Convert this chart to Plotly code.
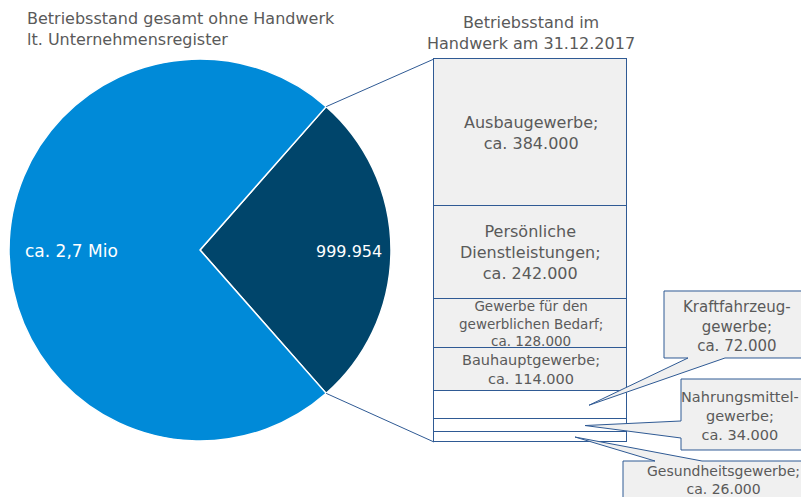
import math
import plotly.graph_objects as go

# ---------------- data ----------------
pie_labels = ["Handwerk", "ohne Handwerk"]
pie_values = [999954, 2700000]
pie_texts = ["999.954", "ca. 2,7 Mio"]

seg_names = ["Ausbaugewerbe", "Persönliche Dienstleistungen", "Gewerbe für den gewerblichen Bedarf",
             "Bauhauptgewerbe", "Kraftfahrzeuggewerbe", "Nahrungsmittelgewerbe", "Gesundheitsgewerbe"]
seg_values = [384000, 242000, 128000, 114000, 72000, 34000, 26000]
seg_labels = ["Ausbaugewerbe;<br>ca. 384.000",
              "Persönliche<br>Dienstleistungen;<br>ca. 242.000",
              "Gewerbe für den<br>gewerblichen Bedarf;<br>ca. 128.000",
              "Bauhauptgewerbe;<br>ca. 114.000",
              "Kraftfahrzeug-<br>gewerbe;<br>ca. 72.000",
              "Nahrungsmittel-<br>gewerbe;<br>ca. 34.000",
              "Gesundheitsgewerbe;<br>ca. 26.000"]

title_left = "Betriebsstand gesamt ohne Handwerk<br>lt. Unternehmensregister"
title_bar = "Betriebsstand im<br>Handwerk am 31.12.2017"

# ---------------- styles ----------------
W, H = 801, 497
FONT = "DejaVu Sans"
TXT = "#5a5a5a"
NAVY = "#2f5a94"
LIGHT_BLUE = "#008ad8"
DARK = "#00456b"
GREY = "#f0f0f0"

# pie geometry (pixels)
cx, cy, r = 200, 250, 191
# bar geometry (pixels)
bar_x, bar_w = 530.5, 193
bar_top, bar_bot = 59, 442
total = sum(seg_values)
scale = (bar_bot - bar_top) / total  # px per unit
y_lo = -bar_top / scale
y_hi = (H - bar_top) / scale


def v2px(v):
    return bar_top + v * scale


def py(p):  # pixel y -> paper
    return 1 - p / H


fig = go.Figure()

frac = pie_values[0] / sum(pie_values)
rot = 90 - 180 * frac
fig.add_trace(go.Pie(
    labels=pie_labels, values=pie_values, sort=False, direction="clockwise",
    rotation=rot, textinfo="none", hoverinfo="skip", showlegend=False,
    marker=dict(colors=[DARK, LIGHT_BLUE], line=dict(color="white", width=1.5)),
    domain=dict(x=[(cx - r) / W, (cx + r) / W], y=[py(cy + r), py(cy - r)]),
))

fills = [GREY, GREY, GREY, GREY, "white", "white", "white"]
for name, val, col in zip(seg_names, seg_values, fills):
    fig.add_trace(go.Bar(
        x=[bar_x], y=[val], width=[bar_w], name=name, showlegend=False,
        marker=dict(color=col, line=dict(color=NAVY, width=1)),
        hoverinfo="skip", xaxis="x", yaxis="y",
    ))

annotations = []
shapes = []


def ann(x, y, text, size, color=TXT, xanchor="center", align="center", yref="paper"):
    annotations.append(dict(x=x, y=y, xref="x", yref=yref, text=text, showarrow=False,
                            xanchor=xanchor, yanchor="middle", align=align,
                            font=dict(family=FONT, size=size, color=color)))


# pie labels
ann(71, py(251), pie_texts[1], 17, color="white")
ann(349, py(251), pie_texts[0], 16, color="white")

# connecting lines from pie to bar
a1 = math.radians(rot)
a2 = math.radians(rot + 360 * frac)
p1 = (cx + r * math.sin(a1), cy - r * math.cos(a1))
p2 = (cx + r * math.sin(a2), cy - r * math.cos(a2))
shapes.append(dict(type="line", xref="x", yref="paper", x0=p1[0], y0=py(p1[1]),
                   x1=bar_x - bar_w / 2, y1=py(v2px(0)), line=dict(color=NAVY, width=1)))
shapes.append(dict(type="line", xref="x", yref="paper", x0=p2[0], y0=py(p2[1]),
                   x1=bar_x - bar_w / 2, y1=py(v2px(total)), line=dict(color=NAVY, width=1)))

# labels inside the first four segments
sizes = [16, 16, 13.5, 14.5]
cum = 0
mids = []
for val in seg_values:
    mids.append(cum + val / 2)
    cum += val
for i in range(4):
    ann(bar_x, mids[i], seg_labels[i], sizes[i], yref="y")

# callouts
callouts = [
    dict(box=(664, 291, 812, 358), base=[(725, 358), (688, 358)], side="bottom",
         tipx=589, txt=(737, 326), idx=4, size=15),
    dict(box=(681, 379, 812, 450), base=[(681, 421), (681, 438)], side="left",
         tipx=585, txt=(740, 416), idx=5, size=14.5),
    dict(box=(623, 461, 812, 510), base=[(655, 461), (702, 461)], side="top",
         tipx=575, txt=(723, 480), idx=6, size=14),
]
for c in callouts:
    x0, y0, x1, y1 = c["box"]
    tip = (c["tipx"], v2px(mids[c["idx"]]))
    b1, b2 = c["base"]
    if c["side"] == "bottom":
        pts = [(x0, y0), (x1, y0), (x1, y1), b1, tip, b2, (x0, y1)]
    elif c["side"] == "left":
        pts = [(x0, y0), (x1, y0), (x1, y1), (x0, y1), b2, tip, b1]
    else:
        pts = [(x0, y0), b1, tip, b2, (x1, y0), (x1, y1), (x0, y1)]
    path = "M " + " L ".join(f"{px_:.2f},{py(p_):.5f}" for px_, p_ in pts) + " Z"
    shapes.append(dict(type="path", xref="x", yref="paper", path=path,
                       fillcolor=GREY, line=dict(color=NAVY, width=1), layer="above"))
    ann(c["txt"][0], py(c["txt"][1]), seg_labels[c["idx"]], c["size"])

# titles
ann(25, py(29), title_left, 16, xanchor="left", align="left")
ann(bar_x, py(33), title_bar, 16)

fig.update_layout(
    width=W, height=H, margin=dict(l=0, r=0, t=0, b=0, autoexpand=False),
    paper_bgcolor="white", plot_bgcolor="white", barmode="stack", bargap=0,
    xaxis=dict(range=[0, W], visible=False, fixedrange=True, domain=[0, 1]),
    yaxis=dict(range=[y_hi, y_lo], visible=False, fixedrange=True, domain=[0, 1]),
    shapes=shapes, annotations=annotations, showlegend=False,
)

fig.write_html("out.html")
